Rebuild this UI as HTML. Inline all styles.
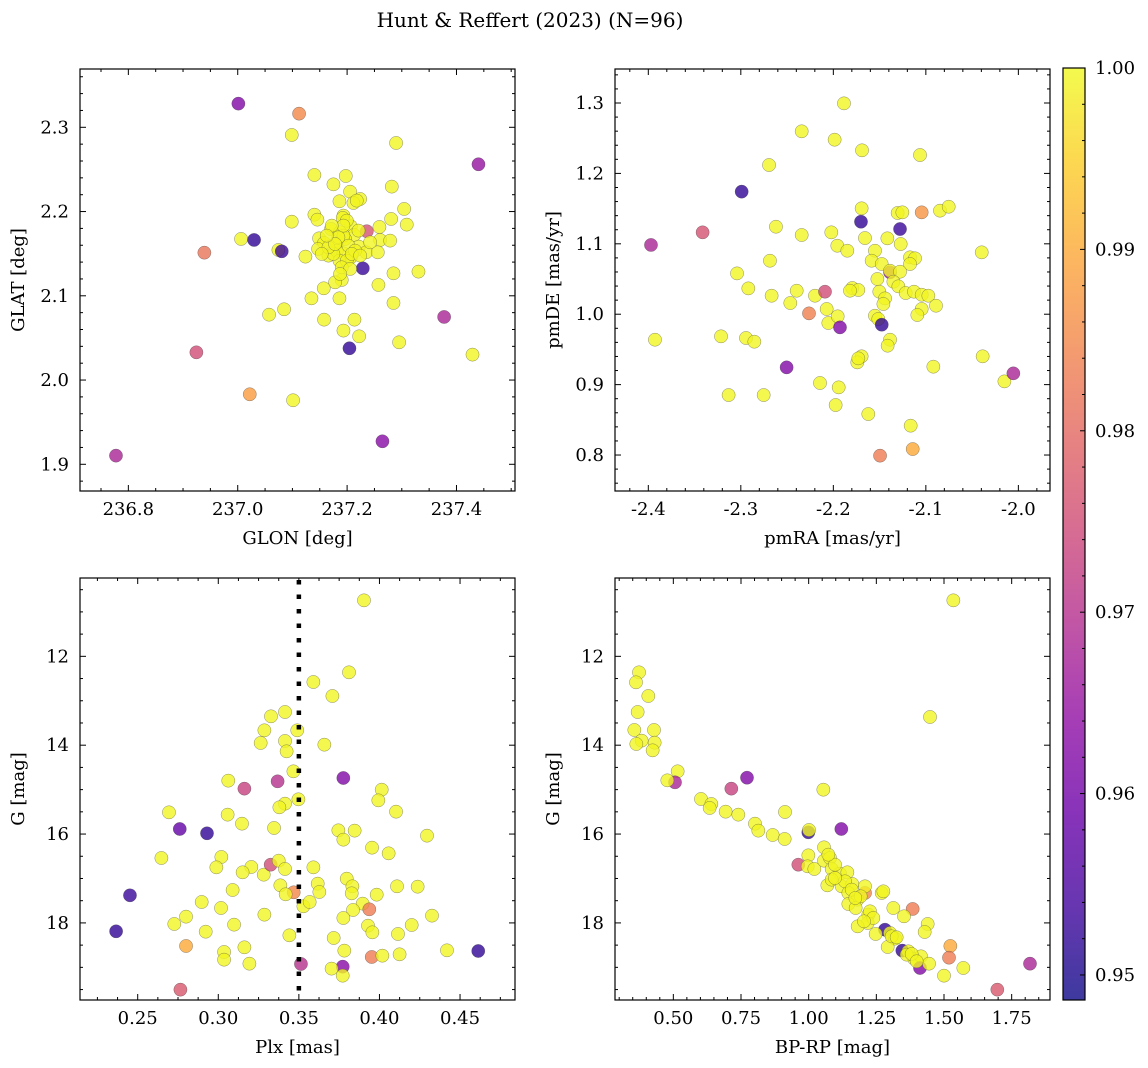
<!DOCTYPE html>
<html><head><meta charset="utf-8"><style>
html,body{margin:0;padding:0;background:#fff;width:1148px;height:1068px;overflow:hidden;}
svg{display:block;font-family:"DejaVu Serif","Liberation Serif",serif;}
</style></head><body>
<svg id="fig" width="1148" height="1068" viewBox="0 0 1148 1068" xmlns="http://www.w3.org/2000/svg">
<defs>
<linearGradient id="plasmaGrad" x1="0" y1="1" x2="0" y2="0">
<stop offset="0" stop-color="#0d0887"/><stop offset="0.1" stop-color="#41049d"/><stop offset="0.2" stop-color="#6a00a8"/><stop offset="0.3" stop-color="#8f0da4"/><stop offset="0.4" stop-color="#b12a90"/><stop offset="0.5" stop-color="#cc4778"/><stop offset="0.6" stop-color="#e16462"/><stop offset="0.7" stop-color="#f2844b"/><stop offset="0.8" stop-color="#fca636"/><stop offset="0.9" stop-color="#fcce25"/><stop offset="1" stop-color="#f0f921"/>
</linearGradient>
</defs>
<text x="530" y="27" font-size="20" text-anchor="middle">Hunt &amp; Reffert (2023) (N=96)</text>
</svg>
<script>
const Y = 0.9995;
const p1Lon = [237.0012,237.1122,237.0988,237.2896,237.4402,237.1402,237.1976,237.175,237.2055,237.2238,237.2116,237.186,237.2817,237.3043,237.1402,237.1457,237.1933,237.1921,237.0988,237.2805,237.3091,237.236,237.2591,237.1707,237.2067,237.1872,237.2128,237.1488,237.1579,237.1811,237.1963,237.2213,237.2604,237.2787,237.147,237.1659,237.1811,237.1933,237.2067,237.186,237.2348,237.2561,237.0061,237.0299,237.0744,237.0805,237.1238,236.939,237.2287,237.3305,237.2848,237.2573,237.1902,237.178,237.1573,237.186,237.1348,237.2848,237.0848,237.0573,237.1579,237.2134,237.1933,237.2220,237.2951,237.2043,237.3774,237.4293,236.9244,237.022,237.1012,237.2646,236.7774,237.1933,237.175,237.2024,237.2146,237.1841,237.1994,237.1659,237.2177,237.178,237.2085,237.1902,237.1994,237.1537,237.2238,237.2421,237.1933,237.2055,237.1872,237.172,237.1628,237.2208];
const p1Lat = [2.3281,2.3162,2.2909,2.2814,2.2561,2.2434,2.2422,2.2323,2.2236,2.2149,2.2102,2.2122,2.2296,2.2031,2.1963,2.1904,2.1952,2.1924,2.1880,2.1912,2.1845,2.1766,2.1817,2.1793,2.1825,2.1754,2.1722,2.1682,2.1627,2.1615,2.1675,2.1584,2.1663,2.1655,2.1556,2.1477,2.1536,2.1504,2.1457,2.1417,2.1516,2.1516,2.1675,2.1663,2.1544,2.1528,2.1465,2.1512,2.1326,2.1287,2.1267,2.1129,2.1188,2.1160,2.1089,2.0970,2.0970,2.0915,2.0840,2.0776,2.0717,2.0717,2.0587,2.0519,2.0448,2.0377,2.0749,2.0302,2.0329,1.9831,1.9760,1.9273,1.9103,2.1714,2.1497,2.1595,2.1536,2.1694,2.1417,2.1576,2.2130,2.1615,2.1497,2.1338,2.1892,2.1497,2.1477,2.1635,2.1833,2.1319,2.1259,2.1833,2.1714,2.1774];
const p1Val = [0.962,0.985,Y,Y,0.965,Y,Y,Y,Y,Y,Y,Y,Y,Y,Y,Y,Y,Y,Y,Y,Y,0.976,Y,Y,Y,Y,Y,Y,Y,Y,Y,Y,Y,Y,Y,Y,Y,Y,Y,Y,Y,Y,Y,0.952,Y,0.953,Y,0.982,0.953,Y,Y,Y,Y,Y,Y,Y,Y,Y,Y,Y,Y,Y,Y,Y,Y,0.952,0.968,Y,0.975,0.988,Y,0.963,0.968,Y,Y,Y,Y,Y,Y,Y,Y,Y,Y,Y,Y,Y,Y,Y,Y,Y,Y,Y,Y,Y];

const p2RA = [-2.1885,-2.2342,-2.1986,-2.1690,-2.1063,-2.2695,-2.2991,-2.1694,-2.1305,-2.1254,-2.1045,-2.0847,-2.0753,-2.1701,-2.1279,-2.2620,-2.2342,-2.2022,-2.1658,-2.1416,-2.1272,-2.1957,-2.1849,-2.1550,-2.0396,-2.3413,-2.3971,-2.2685,-2.1586,-2.1477,-2.1171,-2.1117,-2.1171,-2.1387,-2.1387,-2.1279,-2.3041,-2.1524,-2.1351,-2.1297,-2.1218,-2.1128,-2.1045,-2.0973,-2.0890,-2.1045,-2.1092,-2.1503,-2.1441,-2.1459,-2.1550,-2.1514,-2.1477,-2.1795,-2.1730,-2.1820,-2.2396,-2.2919,-2.2667,-2.2465,-2.2198,-2.2090,-2.2263,-2.2072,-2.2054,-2.1953,-2.1928,-2.3214,-2.3928,-2.2944,-2.2854,-2.1387,-2.1413,-2.1694,-2.1741,-2.1730,-2.0386,-2.0919,-2.2505,-2.0151,-2.0054,-2.2144,-2.1942,-2.3132,-2.2753,-2.1975,-2.1622,-2.1164,-2.1142,-2.1495];
const p2DE = [1.2995,1.2598,1.2479,1.2328,1.2261,1.2119,1.1741,1.1504,1.1438,1.1447,1.1447,1.1471,1.1527,1.1314,1.1210,1.1243,1.1125,1.1163,1.1082,1.1078,1.0997,1.0973,1.0902,1.0902,1.0879,1.1163,1.0984,1.0760,1.0760,1.0713,1.0808,1.0794,1.0713,1.0595,1.0618,1.0604,1.0580,1.0500,1.0462,1.0396,1.0301,1.0320,1.0277,1.0263,1.0121,1.0074,0.9989,1.0320,1.0225,1.0145,0.9979,0.9932,0.9851,1.0372,1.0344,1.0334,1.0334,1.0367,1.0263,1.0159,1.0263,1.0320,1.0012,1.0074,0.9875,0.9970,0.9813,0.9686,0.9638,0.9662,0.9610,0.9638,0.9553,0.9402,0.9316,0.9373,0.9402,0.9255,0.9245,0.9046,0.9160,0.9023,0.8961,0.8852,0.8852,0.8710,0.8582,0.8417,0.8085,0.7991];
const p2Val = [Y,Y,Y,Y,Y,Y,0.952,Y,Y,Y,0.987,Y,Y,0.952,0.953,Y,Y,Y,Y,Y,Y,Y,Y,Y,Y,0.976,0.968,Y,Y,Y,Y,Y,Y,0.965,Y,Y,Y,Y,Y,Y,Y,Y,Y,Y,Y,Y,Y,Y,Y,Y,Y,Y,0.952,Y,Y,Y,Y,Y,Y,Y,Y,0.975,0.984,Y,Y,Y,0.962,Y,Y,Y,Y,Y,Y,Y,Y,Y,Y,Y,0.962,Y,0.968,Y,Y,Y,Y,Y,Y,Y,0.99,0.983];

const p3Plx = [0.3904,0.3811,0.3590,0.3708,0.3327,0.3414,0.3286,0.3490,0.3263,0.3414,0.3424,0.3658,0.3466,0.3062,0.3162,0.3368,0.3776,0.4014,0.3993,0.3497,0.3414,0.3379,0.2694,0.3058,0.3147,0.3346,0.4103,0.2761,0.2930,0.3745,0.3846,0.3776,0.4295,0.3954,0.4057,0.2647,0.3019,0.2988,0.3205,0.3151,0.3282,0.3325,0.3375,0.3414,0.3590,0.2452,0.3089,0.3385,0.3468,0.3418,0.3617,0.3627,0.3797,0.3832,0.3828,0.3983,0.4109,0.4237,0.2897,0.3017,0.3528,0.3567,0.3896,0.3937,0.3836,0.3286,0.2727,0.2800,0.3098,0.3776,0.3929,0.3956,0.4115,0.4200,0.4326,0.2366,0.2922,0.3441,0.3716,0.2800,0.3036,0.3036,0.3162,0.3193,0.3782,0.3952,0.4018,0.4125,0.4419,0.4613,0.3513,0.3772,0.3703,0.3772,0.2765];
const p3G = [10.74,12.36,12.578,12.893,13.350,13.253,13.665,13.665,13.950,13.905,14.138,13.988,14.588,14.798,14.978,14.813,14.738,15.001,15.241,15.218,15.316,15.398,15.511,15.563,15.766,15.863,15.496,15.886,15.983,15.916,15.923,16.126,16.036,16.306,16.434,16.539,16.516,16.749,16.741,16.861,16.914,16.689,16.599,16.786,16.749,17.379,17.259,17.154,17.311,17.356,17.116,17.304,17.004,17.176,17.334,17.364,17.176,17.184,17.529,17.664,17.626,17.529,17.566,17.694,17.709,17.814,18.024,17.859,18.039,17.889,18.062,18.212,18.249,18.047,17.836,18.189,18.197,18.279,18.339,18.519,18.654,18.827,18.549,18.917,18.624,18.767,18.737,18.707,18.617,18.632,18.924,18.984,19.029,19.187,19.502];
const p3Val = [Y,Y,Y,Y,Y,Y,Y,Y,Y,Y,Y,Y,Y,Y,0.973,0.970,0.962,Y,Y,Y,Y,Y,Y,Y,Y,Y,Y,0.958,0.952,Y,Y,Y,Y,Y,Y,Y,Y,Y,Y,Y,Y,0.975,Y,Y,Y,0.953,Y,Y,0.985,Y,Y,Y,Y,Y,Y,Y,Y,Y,Y,Y,Y,Y,Y,0.983,Y,Y,Y,Y,Y,Y,Y,Y,Y,Y,Y,0.952,Y,Y,Y,0.99,Y,Y,Y,Y,Y,0.983,Y,Y,Y,0.952,0.970,0.963,Y,Y,0.977];
const plxCut = [0.35];

const p4BR = [1.5345,0.3732,0.3621,0.4076,0.3682,1.4483,0.3559,0.4286,0.3830,0.4310,0.3633,0.4236,0.5160,0.5062,0.4778,0.7722,0.7143,1.0542,0.6022,0.6404,0.6342,0.6933,0.7401,0.9126,0.8017,0.8140,0.8670,0.9113,0.9988,1.0012,1.1207,1.0567,0.9988,0.9618,0.9963,1.0209,1.0567,1.0788,1.0850,1.1158,1.1429,1.0690,1.0850,1.1219,1.1613,1.2081,1.2081,1.1466,1.1798,1.1466,1.1736,1.2697,1.2759,1.3128,1.3842,1.3522,1.2204,1.2180,1.1810,1.2820,1.2475,1.3005,1.3190,1.2919,1.4397,1.4286,1.3461,1.3682,1.3892,1.4150,1.4113,1.4446,1.5234,1.5185,1.5714,1.5,1.6970,1.8177,1.0973,1.1342,1.1589,1.1921,1.2266,1.2389,1.3067,1.3621,1.3805,1.3251,1.1724,1.0973,1.0727,1.2044,1.3990];
const p4G = [10.74,12.36,12.585,12.893,13.253,13.365,13.658,13.658,13.898,13.943,13.973,14.116,14.588,14.836,14.791,14.731,14.978,15.001,15.211,15.323,15.413,15.496,15.563,15.503,15.766,15.923,16.021,16.111,15.961,15.908,15.886,16.299,16.479,16.689,16.726,16.786,16.599,16.539,16.786,16.891,16.861,17.154,17.026,17.176,17.124,17.326,17.176,17.326,17.476,17.574,17.664,17.326,17.289,17.664,17.686,17.851,17.814,18.002,18.077,18.152,18.249,18.227,18.354,18.542,18.024,18.204,18.624,18.639,18.804,18.752,19.014,18.917,18.519,18.782,19.014,19.187,19.502,18.917,16.689,17.064,17.251,17.401,17.739,17.889,18.302,18.714,18.699,18.324,17.439,16.989,16.464,17.964,18.864];
const p4Val = [Y,Y,Y,Y,Y,Y,Y,Y,Y,Y,Y,Y,Y,0.968,Y,0.962,0.973,Y,Y,Y,Y,Y,Y,Y,Y,Y,Y,Y,0.952,Y,0.962,Y,Y,0.975,Y,Y,Y,Y,Y,Y,Y,Y,Y,Y,Y,0.985,Y,Y,Y,Y,Y,Y,Y,Y,0.983,Y,Y,Y,Y,0.952,Y,Y,Y,Y,Y,Y,0.952,Y,Y,Y,0.962,Y,0.99,0.983,Y,Y,0.977,0.968,Y,Y,Y,Y,Y,Y,Y,Y,Y,Y,Y,Y,Y,Y,Y];

const cbTicks = [0.95,0.96,0.97,0.98,0.99,1.00];
const cbMin = 0.94862, cbMax = 1.0;

const NS = "http://www.w3.org/2000/svg";
const fig = document.getElementById('fig');
function el(tag, attrs, parent){ const e=document.createElementNS(NS,tag); for(const k in attrs) e.setAttribute(k,attrs[k]); (parent||fig).appendChild(e); return e; }

const stops = ["#0d0887","#41049d","#6a00a8","#8f0da4","#b12a90","#cc4778","#e16462","#f2844b","#fca636","#fcce25","#f0f921"];
function hex(h){return [parseInt(h.substr(1,2),16),parseInt(h.substr(3,2),16),parseInt(h.substr(5,2),16)];}
function plasma(v){
  let t=(v-cbMin)/(cbMax-cbMin); t=Math.max(0,Math.min(1,t));
  const s=t*10, i=Math.min(9,Math.floor(s)), f=s-i;
  const a=hex(stops[i]), b=hex(stops[i+1]);
  return 'rgb('+a.map((c,k)=>Math.round(c+(b[k]-c)*f)).join(',')+')';
}

function makeAxes(o){
  const g=el('g',{});
  
  
  const sx=v=>o.x0+(v-o.xlim[0])/(o.xlim[1]-o.xlim[0])*(o.x1-o.x0);
  const sy=o.invertY
    ? (v=>o.y0+(v-o.ylim[0])/(o.ylim[1]-o.ylim[0])*(o.y1-o.y0))
    : (v=>o.y1-(v-o.ylim[0])/(o.ylim[1]-o.ylim[0])*(o.y1-o.y0));
  function ticks(lim, step, minor, axis){
    const eps=1e-9;
    const n0=Math.ceil((lim[0]-eps)/minor), n1=Math.floor((lim[1]+eps)/minor);
    for(let n=n0; n<=n1; n++){
      const v=n*minor;
      const isMaj=Math.abs(Math.round(v/step)*step - v)<minor*0.01;
      const len=isMaj?6:3;
      if(axis==='x'){
        const x=sx(v);
        el('line',{x1:x,y1:o.y1,x2:x,y2:o.y1-len,stroke:'#000','stroke-width':1},g);
        el('line',{x1:x,y1:o.y0,x2:x,y2:o.y0+len,stroke:'#000','stroke-width':1},g);
      } else {
        const y=sy(v);
        el('line',{x1:o.x0,y1:y,x2:o.x0+len,y2:y,stroke:'#000','stroke-width':1},g);
        el('line',{x1:o.x1,y1:y,x2:o.x1-len,y2:y,stroke:'#000','stroke-width':1},g);
      }
    }
  }
  ticks(o.xlim,o.xstep,o.xminor,'x');
  ticks(o.ylim,o.ystep,o.yminor,'y');
  o.xticks.forEach(v=>{
    const t=el('text',{x:sx(v),y:o.y1+24,'font-size':18,'text-anchor':'middle'},g);
    
    
    t.textContent=v.toFixed(o.xdec);
  });
  o.yticks.forEach(v=>{
    const t=el('text',{x:o.x0-11,y:sy(v)+6,'font-size':18,'text-anchor':'end'},g);
    
    
    t.textContent=v.toFixed(o.ydec);
  });
  const xl=el('text',{x:(o.x0+o.x1)/2,y:o.y1+53,'font-size':18,'text-anchor':'middle'},g);
  
  
  xl.textContent=o.xlabel;
  const ylx=o.x0-56, yly=(o.y0+o.y1)/2;
  const yl=el('text',{x:ylx,y:yly,'font-size':18,'text-anchor':'middle',transform:'rotate(-90 '+ylx+' '+yly+')'},g);
  
  
  yl.textContent=o.ylabel;
  const cid='clip-'+o.name;
  const cp=el('clipPath',{id:cid},g); el('rect',{x:o.x0,y:o.y0,width:o.x1-o.x0,height:o.y1-o.y0},cp);
  const pg=el('g',{'clip-path':'url(#'+cid+')'},g);
  o.xs.forEach((xv,i)=>{
    const c=el('circle',{cx:sx(xv),cy:sy(o.ys[i]),r:6.6,fill:plasma(o.vals[i]),'fill-opacity':0.8,stroke:'#444','stroke-width':0.5,'stroke-opacity':0.6},pg);
    
    
  });
  if(o.vline){ o.vline.forEach(v=>{
    const l=el('line',{x1:sx(v),y1:o.y0+2,x2:sx(v),y2:o.y1,stroke:'#000','stroke-width':4.5,'stroke-dasharray':'4.5 10'},pg);
    
    
  });}
  const fr=el('rect',{x:o.x0,y:o.y0,width:o.x1-o.x0,height:o.y1-o.y0,fill:'none',stroke:'#000','stroke-width':1.2},g);
  
  
}

makeAxes({name:'panel-glon-glat',x0:80,x1:515,y0:69,y1:491,xlim:[236.7116,237.507],ylim:[1.8683,2.3692],xstep:0.2,xminor:0.05,ystep:0.1,yminor:0.02,xticks:[236.8,237.0,237.2,237.4],yticks:[1.9,2.0,2.1,2.2,2.3],xdec:1,ydec:1,xlabel:'GLON [deg]',ylabel:'GLAT [deg]',xs:p1Lon,ys:p1Lat,vals:p1Val});
makeAxes({name:'panel-proper-motion',x0:615,x1:1050,y0:69,y1:491,xlim:[-2.436,-1.9658],ylim:[0.7489,1.3483],xstep:0.1,xminor:0.02,ystep:0.1,yminor:0.02,xticks:[-2.4,-2.3,-2.2,-2.1,-2.0],yticks:[0.8,0.9,1.0,1.1,1.2,1.3],xdec:1,ydec:1,xlabel:'pmRA [mas/yr]',ylabel:'pmDE [mas/yr]',xs:p2RA,ys:p2DE,vals:p2Val});
makeAxes({name:'panel-plx-g',x0:80,x1:515,y0:578,y1:1000,xlim:[0.2142,0.4841],ylim:[10.237,19.735],invertY:true,xstep:0.05,xminor:0.0125,ystep:2,yminor:0.5,xticks:[0.25,0.30,0.35,0.40,0.45],yticks:[12,14,16,18],xdec:2,ydec:0,xlabel:'Plx [mas]',ylabel:'G [mag]',xs:p3Plx,ys:p3G,vals:p3Val,vline:plxCut});
makeAxes({name:'panel-cmd',x0:615,x1:1050,y0:578,y1:1000,xlim:[0.2845,1.8916],ylim:[10.237,19.735],invertY:true,xstep:0.25,xminor:0.05,ystep:2,yminor:0.5,xticks:[0.5,0.75,1.0,1.25,1.5,1.75],yticks:[12,14,16,18],xdec:2,ydec:0,xlabel:'BP-RP [mag]',ylabel:'G [mag]',xs:p4BR,ys:p4G,vals:p4Val});

(function(){
  const x0=1063,w=22,y0=68,y1=1000;
  const sy=v=>y1-(v-cbMin)/(cbMax-cbMin)*(y1-y0);
  const g=el('g',{});
  
  
  const r=el('rect',{x:x0,y:y0,width:w,height:y1-y0,fill:'url(#plasmaGrad)','fill-opacity':0.8},g);
  
  
  el('rect',{x:x0,y:y0,width:w,height:y1-y0,fill:'none',stroke:'#000','stroke-width':1.2},g);
  for(let n=Math.ceil(cbMin/0.002); n<=Math.floor(cbMax/0.002+1e-6); n++){
    const v=n*0.002, y=sy(v);
    const maj=Math.abs(Math.round(v*100)-v*100)<0.01;
    el('line',{x1:x0+w,y1:y,x2:x0+w-(maj?5:3),y2:y,stroke:'#000','stroke-width':1},g);
  }
  cbTicks.forEach(v=>{
    const t=el('text',{x:x0+w+10,y:sy(v)+6,'font-size':18},g);
    
    
    t.textContent=v.toFixed(2);
  });
})();
</script>
</body></html>
